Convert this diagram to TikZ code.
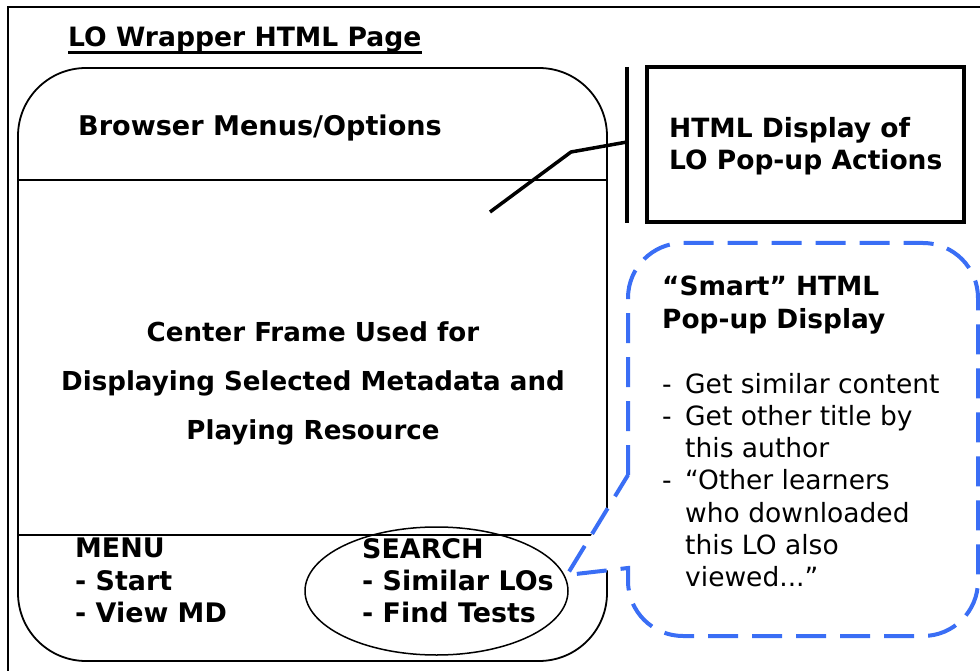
\documentclass[tikz,border=0pt]{standalone}
\usepackage{fontspec}
\setmainfont{DejaVu Sans}
\usetikzlibrary{shapes.geometric}
\definecolor{popblue}{RGB}{58,110,245}
\begin{document}
\begin{tikzpicture}[x=1pt,y=-1pt,
  boldtxt/.style={inner sep=0pt, font=\fontsize{26.6}{32}\selectfont\bfseries, align=left},
  plaintxt/.style={inner sep=0pt, font=\fontsize{26.5}{32.2}\selectfont, align=left},
  thin frame/.style={draw=black, line width=1.8pt},
  heavy/.style={draw=black, line width=4pt},
  callout/.style={draw=popblue, fill=white, line width=4pt, dash pattern=on 30pt off 14pt}]
\useasboundingbox (0,0) rectangle (980,671);

% page frame (runs off the right and bottom edges)
\draw[line width=2pt] (8,671) -- (8,7) -- (980,7);
\node[boldtxt, anchor=base west] (title) at (68,47) {LO Wrapper HTML Page};
\draw[line width=2.2pt] ([yshift=-5.5pt]title.base west) -- ([yshift=-5.5pt]title.base east);

% browser window with its three areas
\node[thin frame, rounded corners=68pt, minimum width=589pt, minimum height=593pt, inner sep=0pt]
  (browser) at (312.5,364.5) {};
\draw[line width=1.5pt] (18,180) -- (607,180);
\draw[line width=1.5pt] (18,535) -- (607,535);
\node[boldtxt, font=\fontsize{27.1}{32}\selectfont\bfseries, anchor=base west] (menus) at (78,136) {Browser Menus/Options};
\node[boldtxt, align=center, font=\fontsize{26.1}{49}\selectfont\bfseries, anchor=north] (center) at (313,321)
  {Center Frame Used for\\Displaying Selected Metadata and\\Playing Resource};
\node[boldtxt, font=\fontsize{26.9}{32.3}\selectfont\bfseries, anchor=north west] (menu) at (75,538) {MENU\\- Start\\- View MD};
\node[boldtxt, font=\fontsize{26.9}{32.3}\selectfont\bfseries, anchor=north west] (search) at (362,538) {SEARCH\\- Similar LOs\\- Find Tests};
\node[draw, line width=1.5pt, ellipse, minimum width=263pt, minimum height=128pt, inner sep=0pt]
  (searchring) at (436.5,591) {};

% pop-up actions box and its bar
\node[heavy, minimum width=317pt, minimum height=155pt, inner sep=0pt] (actions) at (805.5,144.5) {};
\node[boldtxt, font=\fontsize{26.5}{32.5}\selectfont\bfseries, anchor=north west] (actionstxt) at (669,117) {HTML Display of\\LO Pop-up Actions};
\coordinate (bartop) at (627,67);
\coordinate (barbot) at (627,223);
\draw[line width=4pt] (bartop) -- (barbot);
\coordinate (framept) at (490,212);
\coordinate (bend) at (571,152);
\coordinate (barjoin) at (627,142);
\draw[line width=3.5pt] (framept) -- (bend) -- (barjoin);

% smart pop-up callout pointing at the search menu
\coordinate (tip) at (567,575);
\draw[callout] (628,475) -- (628,298) arc[start angle=180,end angle=270,radius=55]
  -- (923,243) arc[start angle=270,end angle=360,radius=55]
  -- (978,581) arc[start angle=0,end angle=90,radius=55]
  -- (683,636) arc[start angle=90,end angle=180,radius=55]
  -- (628,568) -- (tip) -- cycle;
\node[boldtxt, font=\fontsize{26.4}{32.3}\selectfont\bfseries, anchor=north west] (smarthead) at (662,276) {“Smart” HTML\\Pop-up Display};
\node[plaintxt, anchor=north west] (smartlist) at (662,373)
  {\makebox[23pt][l]{-}Get similar content\\
   \makebox[23pt][l]{-}Get other title by\\
   \hspace*{23pt}this author\\
   \makebox[23pt][l]{-}“Other learners\\
   \hspace*{23pt}who downloaded\\
   \hspace*{23pt}this LO also\\
   \hspace*{23pt}viewed...”};
\end{tikzpicture}
\end{document}
